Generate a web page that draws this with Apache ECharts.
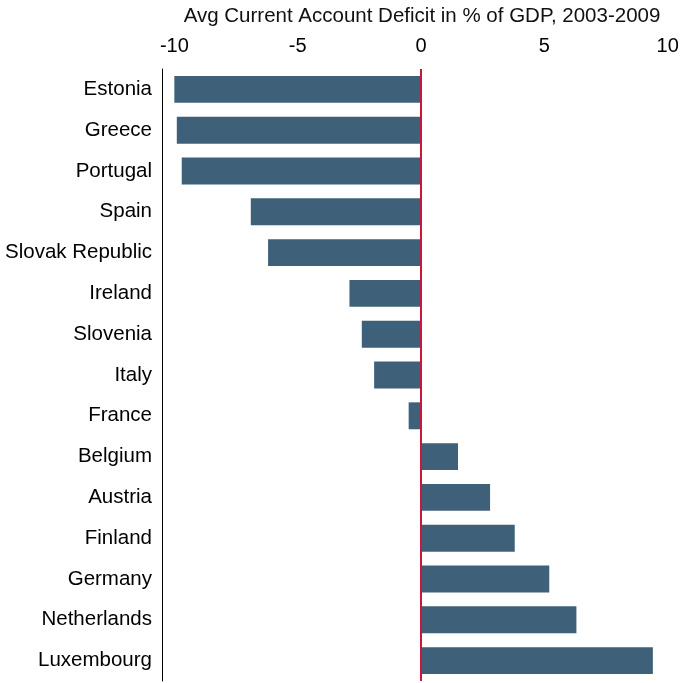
<!DOCTYPE html>
<html>
<head>
<meta charset="utf-8">
<script src="https://cdn.jsdelivr.net/npm/echarts@6/dist/echarts.min.js"></script>
<style>
  html, body { margin: 0; padding: 0; background: #fff; }
  #chart { width: 683px; height: 683px; }
</style>
</head>
<body>
<div id="chart"></div>
<script>
// countries top to bottom
const countries = ['Estonia', 'Greece', 'Portugal', 'Spain', 'Slovak Republic', 'Ireland', 'Slovenia',
  'Italy', 'France', 'Belgium', 'Austria', 'Finland', 'Germany', 'Netherlands', 'Luxembourg'];
// avg current account balance, % of GDP
const values = [-10.0, -9.9, -9.7, -6.9, -6.2, -2.9, -2.4, -1.9, -0.5, 1.5, 2.8, 3.8, 5.2, 6.3, 9.4];
const tickValues = [-10, -5, 0, 5, 10];

const chart = echarts.init(document.getElementById('chart'));
const font = 'Liberation Sans, Arial, Helvetica, sans-serif';

chart.setOption({
  animation: false,
  title: {
    text: 'Avg Current Account Deficit in % of GDP, 2003-2009',
    left: 417, top: 1, textAlign: 'center',
    textStyle: { fontFamily: font, fontSize: 20.5, fontWeight: 'normal', color: '#111' }
  },
  grid: { left: 162, right: 3, top: 69, bottom: 2, containLabel: false },
  xAxis: {
    type: 'value', position: 'top', min: -10.5, max: 10.5,
    axisLine: { show: false },
    axisTick: { show: false },
    splitLine: { show: false },
    axisLabel: {
      customValues: tickValues, margin: 13,
      fontFamily: font, fontSize: 20, color: '#000',
      formatter: v => String(v)
    }
  },
  yAxis: {
    type: 'category', data: countries, inverse: true,
    axisLine: { show: true, onZero: false, lineStyle: { color: '#000', width: 1 } },
    axisTick: { show: false },
    axisLabel: { margin: 10, fontFamily: font, fontSize: 20.5, color: '#000', padding: [4, 0, 0, 0] }
  },
  series: [{
    type: 'bar', data: values, barWidth: '66%',
    itemStyle: { color: '#3e6079' },
    markLine: {
      silent: true, symbol: 'none', label: { show: false },
      lineStyle: { color: '#c8163c', width: 2, type: 'solid' },
      data: [{ xAxis: 0 }]
    }
  }]
});
</script>
</body>
</html>
